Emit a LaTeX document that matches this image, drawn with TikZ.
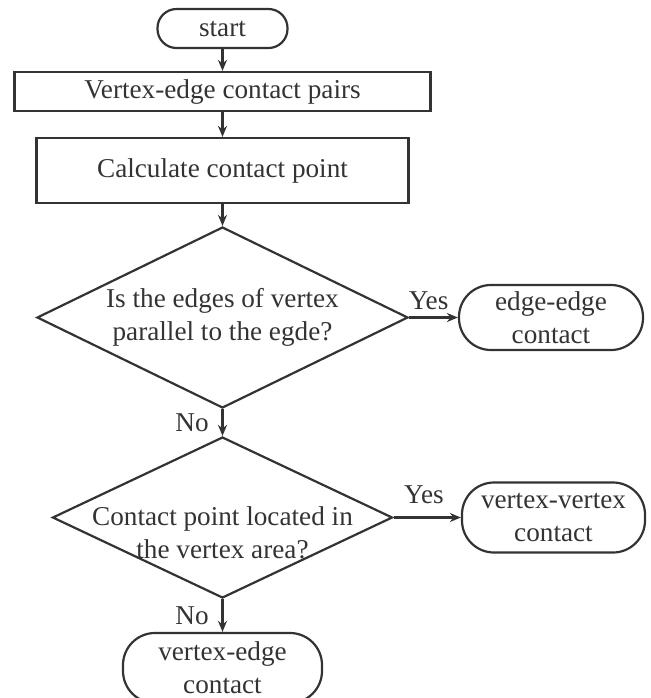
\documentclass[tikz,border=0pt]{standalone}
\usepackage{fontspec}
\setmainfont{Liberation Serif}
\usetikzlibrary{shapes.geometric,arrows.meta}
\begin{document}
\begin{tikzpicture}[x=0.5pt, y=-0.5pt,
        every node/.style={font=\fontsize{13.6}{16.5}\selectfont, text=black!80},
        line/.style={draw=black!80, line width=1.1pt},
        proc/.style={line, rectangle, inner sep=0pt},
        term/.style={line, rectangle, rounded corners=16pt, inner sep=0pt, align=center},
        decision/.style={line, diamond, inner sep=0pt},
        flow/.style={line, -{Stealth[length=5.5pt, width=4.5pt]}}]
        \useasboundingbox (0,0) rectangle (651,698);

        % Bloki
        \node[term, rounded corners=9.5pt, minimum width=65pt, minimum height=19.5pt] (start) at (222.5,28.5) {start};
        \node[proc, minimum width=208pt, minimum height=19.5pt] (pairs) at (222.5,91.5) {Vertex-edge contact pairs};
        \node[proc, minimum width=186pt, minimum height=32.5pt] (calc) at (222.5,170.5) {Calculate contact point};

        % Pierwsza decyzja
        \node[decision, minimum width=185.5pt, minimum height=90.5pt] (par) at (222.5,317.5) {};
        \node[align=center] (partxt) at (par) {Is the edges of vertex\\parallel to the egde?};
        \node[term, minimum width=92pt, minimum height=32.5pt] (ee) at (551,317.5) {edge-edge\\contact};

        % Druga decyzja
        \node[decision, minimum width=170pt, minimum height=80.5pt] (area) at (222.5,517.5) {};
        \node[align=center] (areatxt) at (222.5,533) {Contact point located in\\the vertex area?};
        \node[term, minimum width=91.5pt, minimum height=35pt] (vv) at (553.5,517.5) {vertex-vertex\\contact};
        \node[term, minimum width=99.5pt, minimum height=35pt] (ve) at (222.5,668) {vertex-edge\\contact};

        % Strzałki
        \draw[flow] (start) -- (pairs);
        \draw[flow] (pairs) -- (calc);
        \draw[flow] (calc) -- (par);
        \draw[flow] (par.east) -- (ee.west) node[pos=0.4, above] (yes1) {Yes};
        \draw[flow] (par.south) -- (area.north) node[midway, left=3pt] (no1) {No};
        \draw[flow] (area.east) -- (vv.west) node[pos=0.45, above=3pt] (yes2) {Yes};
        \draw[flow] (area.south) -- (ve.north) node[midway, left=3pt] (no2) {No};

    \end{tikzpicture}
\end{document}
